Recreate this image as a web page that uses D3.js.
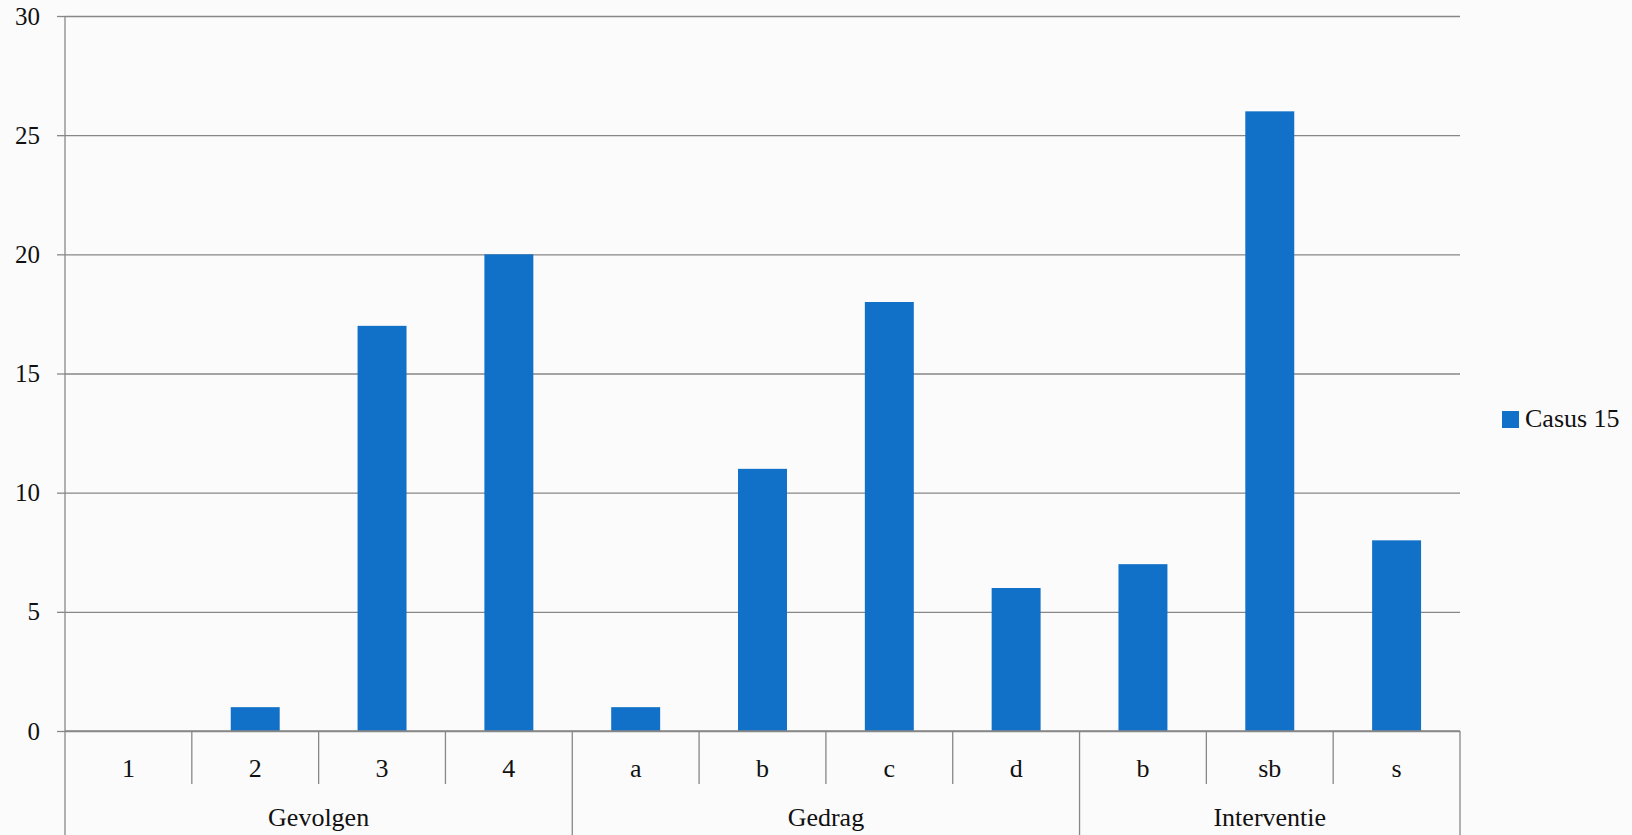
<!DOCTYPE html>
<html lang="nl">
<head>
  <meta charset="UTF-8">
  <title>Casus 15</title>
  <style>
    body { margin: 0; background: #fbfbfb; }
    svg text { font-family: "Liberation Serif", "DejaVu Serif", serif; fill: #111; }
  </style>
</head>
<body>
<svg></svg>
<script src="https://cdn.jsdelivr.net/npm/d3@7"></script>
<script>
// data
const categories = ['1', '2', '3', '4', 'a', 'b', 'c', 'd', 'b', 'sb', 's'];
const categoryGroup = ['Gevolgen', 'Gevolgen', 'Gevolgen', 'Gevolgen',
  'Gedrag', 'Gedrag', 'Gedrag', 'Gedrag',
  'Interventie', 'Interventie', 'Interventie'];
const groups = ['Gevolgen', 'Gedrag', 'Interventie'];
const values = [0, 1, 17, 20, 1, 11, 18, 6, 7, 26, 8];
const seriesName = 'Casus 15';

const width = 1632;
const height = 835;
const plotLeft = 65, plotRight = 1460, plotTop = 16, plotBottom = 731;
const barColor = '#1170c8';
const lineColor = '#878787';

const svg = d3.select('svg')
  .attr('width', width)
  .attr('height', height);

const x = d3.scaleBand()
  .domain(d3.range(categories.length))
  .range([plotLeft, plotRight])
  .padding(0);

const y = d3.scaleLinear()
  .domain([0, 30])
  .range([plotBottom, plotTop]);

// gridlines + y labels
const yAxis = svg.append('g')
  .attr('transform', `translate(${plotLeft},0)`)
  .call(d3.axisLeft(y).tickValues(d3.range(0, 31, 5)).tickSize(8).tickPadding(17));
yAxis.select('.domain').remove();
yAxis.selectAll('.tick line').attr('stroke', lineColor).attr('stroke-width', 1.3);
yAxis.selectAll('.tick text').attr('font-size', 25).attr('fill', '#111');
yAxis.selectAll('.tick')
  .append('line')
  .attr('x1', 0)
  .attr('x2', plotRight - plotLeft)
  .attr('stroke', lineColor)
  .attr('stroke-width', 1.3);

// bars
const barFrac = 0.386;
svg.append('g')
  .selectAll('rect')
  .data(values)
  .enter()
  .append('rect')
  .attr('x', (d, i) => x(i) + x.bandwidth() * (1 - barFrac) / 2)
  .attr('width', x.bandwidth() * barFrac)
  .attr('y', d => y(d))
  .attr('height', d => y(0) - y(d))
  .attr('fill', barColor);

// category axis
const cat = svg.append('g');
cat.append('line')
  .attr('x1', plotLeft).attr('x2', plotRight)
  .attr('y1', y(0)).attr('y2', y(0))
  .attr('stroke', lineColor).attr('stroke-width', 1.3);

// left axis line
cat.append('line')
  .attr('x1', plotLeft).attr('x2', plotLeft)
  .attr('y1', plotTop).attr('y2', height)
  .attr('stroke', lineColor).attr('stroke-width', 1.3);

// separators between categories (short) and groups (long)
const bounds = d3.range(1, categories.length + 1);
cat.selectAll('.sep')
  .data(bounds)
  .enter()
  .append('line')
  .attr('x1', i => i < categories.length ? x(i) : plotRight)
  .attr('x2', i => i < categories.length ? x(i) : plotRight)
  .attr('y1', y(0))
  .attr('y2', i => (i === categories.length || categoryGroup[i] !== categoryGroup[i - 1]) ? height : y(0) + 53)
  .attr('stroke', lineColor)
  .attr('stroke-width', 1.3);

cat.selectAll('.catLabel')
  .data(categories)
  .enter()
  .append('text')
  .attr('x', (d, i) => x(i) + x.bandwidth() / 2)
  .attr('y', y(0) + 37)
  .attr('dy', '0.35em')
  .attr('text-anchor', 'middle')
  .attr('font-size', 26)
  .text(d => d);

cat.selectAll('.groupLabel')
  .data(groups)
  .enter()
  .append('text')
  .attr('x', g => {
    const idx = categories.map((c, i) => i).filter(i => categoryGroup[i] === g);
    return (x(idx[0]) + x(idx[idx.length - 1]) + x.bandwidth()) / 2;
  })
  .attr('y', y(0) + 86)
  .attr('dy', '0.35em')
  .attr('text-anchor', 'middle')
  .attr('font-size', 26)
  .text(d => d);

// legend
const legend = svg.append('g').attr('transform', 'translate(1502,411)');
legend.append('rect')
  .attr('width', 17).attr('height', 17)
  .attr('fill', barColor);
legend.append('text')
  .attr('x', 23)
  .attr('y', 16)
  .attr('font-size', 26)
  .text(seriesName);
</script>
</body>
</html>
